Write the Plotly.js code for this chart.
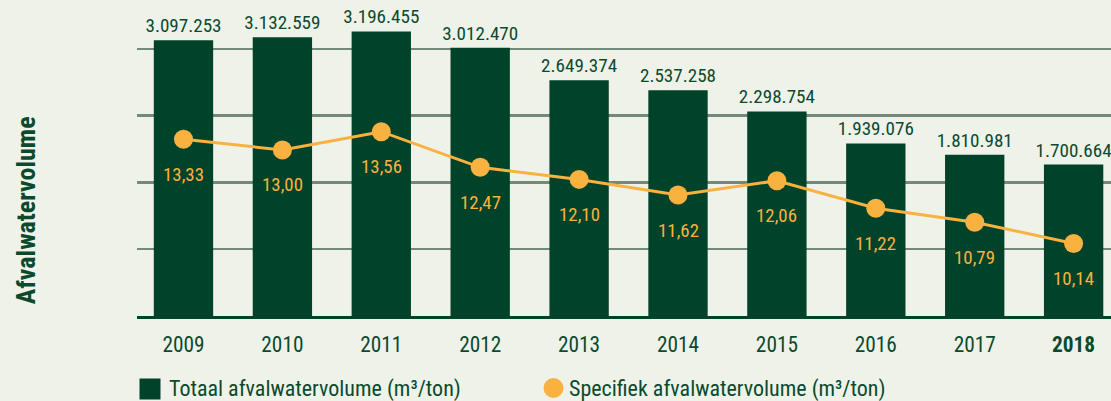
<!DOCTYPE html>
<html>
<head>
<meta charset="utf-8">
<script src="https://cdn.plot.ly/plotly-3.0.1.min.js"></script>
<style>
  html, body { margin: 0; padding: 0; background: #eff2e8; }
  #chart { width: 1111px; height: 401px; }
</style>
</head>
<body>
<div id="chart"></div>
<script>
const years = ['2009', '2010', '2011', '2012', '2013', '2014', '2015', '2016', '2017', '2018'];
const yearLabels = ['2009', '2010', '2011', '2012', '2013', '2014', '2015', '2016', '2017', '<b>2018</b>'];
const totalVolume = [3097253, 3132559, 3196455, 3012470, 2649374, 2537258, 2298754, 1939076, 1810981, 1700664];
const specificVolume = [13.33, 13.00, 13.56, 12.47, 12.10, 11.62, 12.06, 11.22, 10.79, 10.14];
const seriesNames = ['Totaal afvalwatervolume (m³/ton)', 'Specifiek afvalwatervolume (m³/ton)'];
const yTitle = 'Afvalwatervolume';

const GREEN = '#00432a';
const TEXTGREEN = '#0b4a2f';
const ORANGE = '#f9b13f';
const BG = '#eff2e8';

// pick the narrowest available condensed face
const ctx = document.createElement('canvas').getContext('2d');
function hasFont(name) {
  const s = 'abcdefghijklmnopqrstuvwxyz0123456789ABCDEFGHIJ';
  for (const base of ['monospace', 'serif']) {
    ctx.font = '72px ' + base;
    const w0 = ctx.measureText(s).width;
    ctx.font = '72px "' + name + '", ' + base;
    const w1 = ctx.measureText(s).width;
    if (Math.abs(w0 - w1) > 0.5) return true;
  }
  return false;
}
const candidates = ['Liberation Sans Narrow', 'Roboto Condensed', 'Arial Narrow', 'Nimbus Sans Narrow', 'Open Sans Condensed', 'DejaVu Sans Condensed', 'Roboto'];
let FACE = candidates.find(hasFont) || 'sans-serif';
const FONT = '"' + FACE + '", "DejaVu Sans Condensed", sans-serif';

function fitSize(text, target, cap, bold) {
  ctx.font = (bold ? 'bold ' : '') + '100px ' + FONT;
  const w = ctx.measureText(text).width;
  return Math.min(cap, Math.round(target / w * 1000) / 10);
}
const barSize = fitSize('3.097.253', 76, 21, false);
const tickSize = fitSize('2009', 42, 23, false);
const pointSize = fitSize('13,33', 41, 20, false);
const legendSize = fitSize(seriesNames[0], 313, 22, false);
const titleSize = fitSize(yTitle, 194, 26, true);

const fmtDec = v => v.toFixed(2).replace('.', ',');

const traces = [
  {
    type: 'bar',
    x: years,
    y: totalVolume,
    name: seriesNames[0],
    marker: { color: GREEN },
    width: 0.6,
    texttemplate: '%{y:,.0f}',
    textposition: 'outside',
    constraintext: 'none',
    cliponaxis: false,
    textfont: { family: FONT, size: barSize, color: TEXTGREEN },
    hoverinfo: 'skip'
  },
  {
    type: 'scatter',
    mode: 'lines+markers',
    x: years,
    y: specificVolume,
    yaxis: 'y2',
    name: seriesNames[1],
    line: { color: ORANGE, width: 3 },
    marker: { color: ORANGE, size: 19 },
    cliponaxis: false,
    hoverinfo: 'skip'
  }
];

const annotations = specificVolume.map((v, i) => ({
  x: i, y: v, xref: 'x', yref: 'y2',
  text: fmtDec(v), showarrow: false, yshift: -35,
  font: { family: FONT, size: pointSize, color: ORANGE }
}));

annotations.push({
  x: -0.117, y: 0.335, xref: 'paper', yref: 'paper', xshift: -14,
  text: '<b>' + yTitle + '</b>', textangle: -90, showarrow: false,
  font: { family: FONT, size: titleSize, color: TEXTGREEN }
});
annotations.push({
  x: 0.0308, y: -0.231, xref: 'paper', yref: 'paper', xanchor: 'left', yanchor: 'middle',
  text: seriesNames[0], showarrow: false,
  font: { family: FONT, size: legendSize, color: TEXTGREEN }
});
annotations.push({
  x: 0.4415, y: -0.231, xref: 'paper', yref: 'paper', xanchor: 'left', yanchor: 'middle',
  text: seriesNames[1], showarrow: false,
  font: { family: FONT, size: legendSize, color: TEXTGREEN }
});

const shapes = [
  { type: 'rect', xref: 'paper', yref: 'paper', xsizemode: 'pixel', ysizemode: 'pixel',
    xanchor: 0.01335, yanchor: -0.231, x0: -10.5, x1: 10.5, y0: -10.5, y1: 10.5,
    fillcolor: GREEN, line: { width: 0 } },
  { type: 'circle', xref: 'paper', yref: 'paper', xsizemode: 'pixel', ysizemode: 'pixel',
    xanchor: 0.4276, yanchor: -0.228, x0: -10, x1: 10, y0: -10, y1: 10,
    fillcolor: ORANGE, line: { width: 0 } }
];

const layout = {
  width: 1111, height: 401,
  margin: { l: 137, r: 0, t: 0, b: 85 },
  paper_bgcolor: BG, plot_bgcolor: BG,
  separators: ',.',
  showlegend: false,
  font: { family: FONT, color: TEXTGREEN },
  xaxis: {
    type: 'category',
    range: [-0.47, 9.378],
    tickvals: years, ticktext: yearLabels,
    tickfont: { family: FONT, size: tickSize, color: TEXTGREEN },
    ticks: '', showgrid: false, zeroline: false,
    showline: true, linecolor: GREEN, linewidth: 3,
    ticklabelstandoff: Math.max(0, Math.round(345 - 316 - 11.5 - tickSize / 2))
  },
  yaxis: {
    range: [0, 3550000],
    tick0: 0, dtick: 750000,
    showticklabels: false, ticks: '',
    showgrid: true, gridcolor: '#738a7b', gridwidth: 2.5,
    zeroline: false, showline: false
  },
  yaxis2: {
    overlaying: 'y', side: 'right',
    range: [7.92, 17.59],
    showgrid: false, showticklabels: false, ticks: '', zeroline: false, showline: false
  },
  bargap: 0.4,
  annotations: annotations,
  shapes: shapes
};

Plotly.newPlot('chart', traces, layout, { displayModeBar: false, staticPlot: true });
</script>
</body>
</html>
